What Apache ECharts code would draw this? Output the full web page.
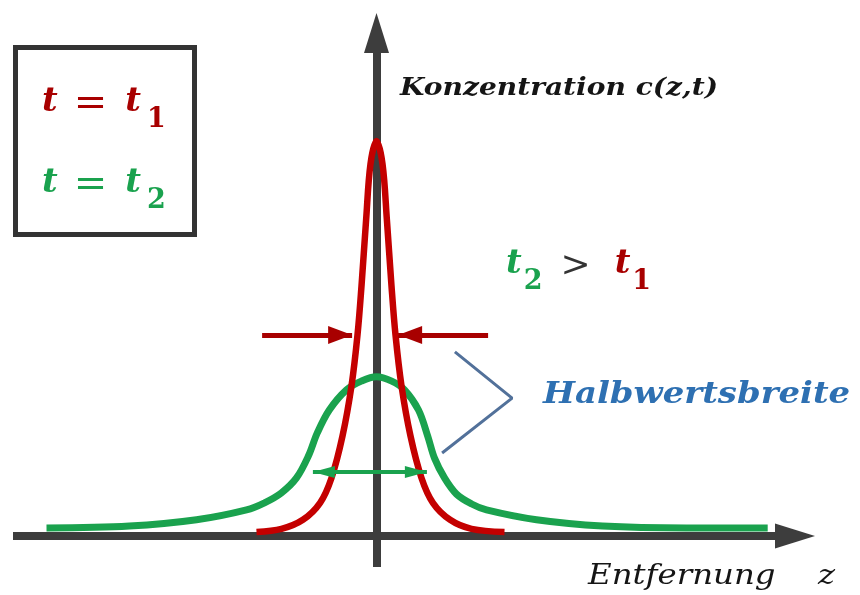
<!DOCTYPE html>
<html>
<head>
<meta charset="utf-8">
<script src="https://cdn.jsdelivr.net/npm/echarts@6/dist/echarts.min.js"></script>
<style>
  html, body { margin: 0; padding: 0; background: #ffffff; }
  #chart { width: 860px; height: 595px; }
</style>
</head>
<body>
<div id="chart"></div>
<script>
// Concentration profiles c(z,t) at two times; z = distance from the source
const zRed   = [-3.0, -2.375, -1.84, -1.41, -1.125, -0.85, -0.625, -0.475, -0.375, -0.26, -0.15, 0, 0.15, 0.26, 0.375, 0.475, 0.625, 0.85, 1.125, 1.41, 1.84, 2.375, 3.2];
const cRed   = [0.10, 0.18, 0.41, 0.84, 1.47, 2.53, 3.80, 5.09, 6.33, 8.0, 9.42, 10.0, 9.42, 8.0, 6.33, 5.09, 3.80, 2.53, 1.47, 0.84, 0.41, 0.18, 0.10];

const zGreen = [-8.25, -6.18, -4.5, -3.25, -2.8, -2.38, -2.0, -1.7, -1.48, -1.18, -0.75, -0.38, 0, 0.38, 0.70, 1.05, 1.28, 1.45, 1.70, 2.0, 2.38, 2.75, 4.0, 5.65, 7.75, 9.78];
const cGreen = [0.20, 0.25, 0.41, 0.66, 0.84, 1.09, 1.47, 2.03, 2.61, 3.19, 3.70, 3.92, 4.03, 3.92, 3.70, 3.19, 2.53, 1.97, 1.47, 1.06, 0.81, 0.66, 0.41, 0.25, 0.20, 0.20];

// Full-width markers: [start z, arrow tip z, level c]
const redWidthArrows = [[-2.86, -0.61, 5.09], [2.79, 0.54, 5.09]];
const greenWidthArrow = [-1.59, 1.26, 1.62];
// Bracket pointing at the label
const bracketZ = [1.96, 3.39, 1.64];
const bracketC = [4.66, 3.49, 2.10];

const legendLabels = ['t1', 't2'];

const RED = '#C40000';
const RED_DARK = '#A80000';
const GREEN = '#1AA24E';
const AXIS = '#3d3d3d';
const SERIF = '"DejaVu Serif", serif';

const zip = (xs, ys) => xs.map((x, i) => [x, ys[i]]);

const chart = echarts.init(document.getElementById('chart'), null, { renderer: 'canvas' });

const axisArrow = {
  show: true,
  onZero: true,
  symbol: ['none', 'triangle'],
  symbolSize: [25, 40],
  lineStyle: { color: AXIS, width: 8, cap: 'butt' }
};

function mathStyles(color) {
  return {
    v: { fontFamily: SERIF, fontStyle: 'italic', fontWeight: 'bold', fontSize: 34, lineHeight: 34, verticalAlign: 'top', fill: color },
    op: { fontFamily: SERIF, fontSize: 40, lineHeight: 34, verticalAlign: 'top', padding: [0, 18, 0, 16], fill: color },
    s: { fontFamily: SERIF, fontWeight: 'bold', fontSize: 27, lineHeight: 27, padding: [21, 0, 0, 6], verticalAlign: 'top', fill: color }
  };
}

const option = {
  animation: false,
  backgroundColor: '#ffffff',
  grid: { left: 13, right: 65, top: 33, bottom: 28, containLabel: false },
  xAxis: {
    type: 'value',
    min: -9.0875,
    max: 10.4625,
    axisLine: axisArrow,
    axisTick: { show: false },
    axisLabel: { show: false },
    splitLine: { show: false }
  },
  yAxis: {
    type: 'value',
    min: -0.785,
    max: 12.734,
    axisLine: axisArrow,
    axisTick: { show: false },
    axisLabel: { show: false },
    splitLine: { show: false }
  },
  series: [
    {
      name: legendLabels[1],
      type: 'line',
      data: zip(zGreen, cGreen),
      smooth: 0.35,
      showSymbol: false,
      lineStyle: { color: GREEN, width: 7 },
      z: 3,
      markLine: {
        silent: true,
        symbol: ['triangle', 'triangle'],
        symbolSize: [12, 22],
        symbolOffset: [[0, 11], [0, 11]],
        label: { show: false },
        lineStyle: { color: GREEN, width: 4, type: 'solid' },
        data: [[
          { coord: [greenWidthArrow[0], greenWidthArrow[2]] },
          { coord: [greenWidthArrow[1], greenWidthArrow[2]] }
        ]]
      }
    },
    {
      name: legendLabels[0],
      type: 'line',
      data: zip(zRed, cRed),
      smooth: 0.35,
      showSymbol: false,
      lineStyle: { color: RED, width: 6.5 },
      z: 4,
      markLine: {
        silent: true,
        symbol: ['none', 'triangle'],
        symbolSize: [18, 24],
        symbolOffset: [[0, 0], [0, 12]],
        label: { show: false },
        lineStyle: { color: RED_DARK, width: 5, type: 'solid' },
        data: redWidthArrows.map(a => [{ coord: [a[0], a[2]] }, { coord: [a[1], a[2]] }])
      }
    },
    {
      type: 'line',
      data: zip(bracketZ, bracketC),
      showSymbol: false,
      lineStyle: { color: '#52719A', width: 3 },
      z: 3
    }
  ],
  graphic: [
    {
      type: 'rect',
      shape: { x: 15.5, y: 47.5, width: 179, height: 187 },
      style: { fill: '#ffffff', stroke: '#333333', lineWidth: 5 },
      z: 10
    },
    {
      type: 'text', x: 42, y: 85, z: 11,
      style: { x: 0, y: 0, text: '{v|t}{op|=}{v|t}{s|1}', rich: mathStyles(RED_DARK), textAlign: 'left', textVerticalAlign: 'top' }
    },
    {
      type: 'text', x: 42, y: 166, z: 11,
      style: { x: 0, y: 0, text: '{v|t}{op|=}{v|t}{s|2}', rich: mathStyles(GREEN), textAlign: 'left', textVerticalAlign: 'top' }
    },
    {
      type: 'text', x: 506, y: 247, z: 11,
      style: {
        x: 0, y: 0, textAlign: 'left', textVerticalAlign: 'top',
        text: '{gv|t}{gs|2}{g|>}{rv|t}{rs|1}',
        rich: {
          gv: mathStyles(GREEN).v,
          gs: Object.assign({}, mathStyles(GREEN).s, { padding: [21, 0, 0, 2] }),
          g: { fontFamily: SERIF, fontSize: 36, lineHeight: 34, verticalAlign: 'top', padding: [2, 24, 0, 18], fill: '#333333' },
          rv: mathStyles(RED_DARK).v,
          rs: Object.assign({}, mathStyles(RED_DARK).s, { padding: [21, 0, 0, 2] })
        }
      }
    },
    {
      type: 'text', x: 400, y: 77, scaleX: 1.17, z: 11,
      style: { x: 0, y: 0, text: 'Konzentration c(z,t)', font: 'italic bold 24px ' + SERIF, fill: '#151515', textAlign: 'left', textVerticalAlign: 'top' }
    },
    {
      type: 'text', x: 588, y: 563, scaleX: 1.2, z: 11,
      style: {
        x: 0, y: 0, textAlign: 'left', textVerticalAlign: 'top',
        text: '{a|Entfernung} {b|z}',
        rich: {
          a: { fontFamily: SERIF, fontStyle: 'italic', fontSize: 27, fill: '#151515' },
          b: { fontFamily: SERIF, fontStyle: 'italic', fontSize: 27, fill: '#151515', padding: [0, 0, 0, 32] }
        }
      }
    },
    {
      type: 'text', x: 543, y: 380, scaleX: 1.13, z: 11,
      style: { x: 0, y: 0, text: 'Halbwertsbreite', font: 'italic bold 30px ' + SERIF, fill: '#2E70B2', textAlign: 'left', textVerticalAlign: 'top' }
    }
  ]
};

chart.setOption(option);
</script>
</body>
</html>
